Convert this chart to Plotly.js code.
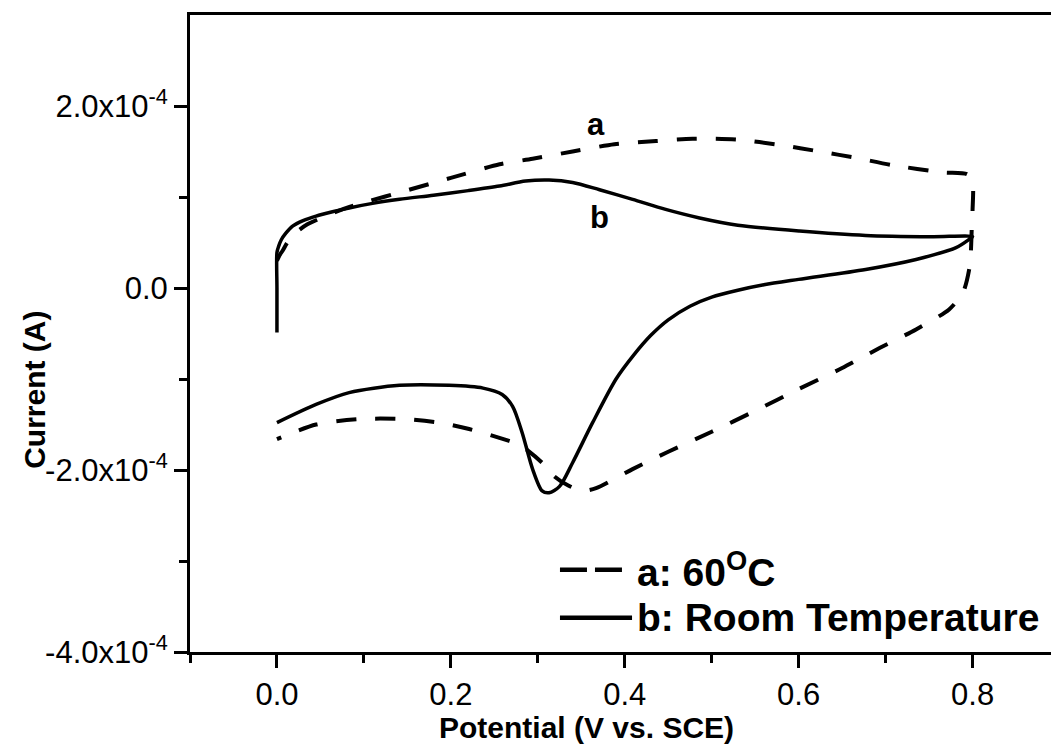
<!DOCTYPE html>
<html>
<head>
<meta charset="utf-8">
<script src="https://cdn.plot.ly/plotly-3.0.1.min.js"></script>
<style>html,body{margin:0;padding:0;background:#fff;}#chart{width:1051px;height:745px;}</style>
</head>
<body>
<div id="chart"></div>
<script>
// Units: potential in V, current in 1e-4 A
const CURRENT_UNIT = 1e-4;

// Curve a: 60 °C (dashed)
const aPotential = [0.000, 0.003, 0.0065, 0.012, 0.022, 0.035, 0.056, 0.080, 0.106, 0.141, 0.200, 0.256, 0.294, 0.340, 0.388, 0.436, 0.478, 0.530, 0.580, 0.624, 0.666, 0.708, 0.766, 0.794, 0.800, 0.800, 0.799, 0.798, 0.796, 0.789, 0.773, 0.735, 0.693,
  0.650, 0.600, 0.550, 0.500, 0.450, 0.409, 0.367, 0.351, 0.335, 0.319, 0.305, 0.279, 0.267, 0.221, 0.187, 0.145, 0.095, 0.045, 0.000];
const aCurrent = [0.30, 0.36, 0.41, 0.50, 0.61, 0.70, 0.79, 0.88, 0.955, 1.05, 1.21, 1.36, 1.42, 1.50, 1.58, 1.615, 1.64, 1.63, 1.57, 1.50, 1.43, 1.35, 1.27, 1.25, 1.16, 0.86, 0.64, 0.39, 0.20, -0.05, -0.235, -0.455, -0.66,
  -0.88, -1.11, -1.35, -1.58, -1.80, -1.99, -2.20, -2.23, -2.17, -2.07, -1.92, -1.72, -1.68, -1.55, -1.48, -1.44, -1.44, -1.50, -1.66];

// Curve b: room temperature (solid)
const bPotential = [0.000, 0.000, 0.000, 0.002, 0.005, 0.010, 0.018, 0.030, 0.045, 0.065, 0.083, 0.110, 0.141, 0.180, 0.220, 0.256, 0.286, 0.313, 0.340, 0.371, 0.409, 0.447, 0.486, 0.530, 0.601, 0.677, 0.754, 0.800,
  0.796, 0.781, 0.735, 0.677, 0.600, 0.560, 0.530, 0.500, 0.475, 0.450, 0.430, 0.410, 0.390, 0.363, 0.340, 0.325, 0.313, 0.305, 0.294, 0.282, 0.271, 0.259, 0.237, 0.198, 0.141, 0.083, 0.045, 0.000];
const bCurrent = [-0.49, 0.00, 0.39, 0.46, 0.53, 0.60, 0.68, 0.74, 0.79, 0.84, 0.88, 0.93, 0.975, 1.02, 1.07, 1.12, 1.175, 1.186, 1.16, 1.08, 0.974, 0.864, 0.77, 0.69, 0.626, 0.578, 0.564, 0.564,
  0.534, 0.443, 0.314, 0.204, 0.095, 0.035, -0.025, -0.10, -0.20, -0.35, -0.52, -0.74, -1.00, -1.48, -1.92, -2.18, -2.25, -2.23, -1.99, -1.59, -1.30, -1.17, -1.10, -1.07, -1.07, -1.15, -1.28, -1.48];

// Ticks
const xMajorTicks = [0.0, 0.2, 0.4, 0.6, 0.8];
const xTickLabels = ["0.0", "0.2", "0.4", "0.6", "0.8"];
const xMinorTicks = [-0.1, 0.1, 0.3, 0.5, 0.7];
const yMajorTicks = [-4e-4, -2e-4, 0, 2e-4];
const yTickLabels = ["-4.0x10<sup>-4</sup>", "-2.0x10<sup>-4</sup>", "0.0", "2.0x10<sup>-4</sup>"];
const yMinorTicks = [-3e-4, -1e-4, 1e-4];

const seriesNames = ["a: 60<sup>O</sup>C", "b: Room Temperature"];
const curveLabels = ["a", "b"];

const FONT = "'Liberation Sans', Arial, Helvetica, sans-serif";
const toA = v => v.map(c => c * CURRENT_UNIT);

const traces = [
  {x: aPotential, y: toA(aCurrent), mode: "lines", name: seriesNames[0],
   line: {color: "#000", width: 4, dash: "20px,19px", shape: "spline", smoothing: 0.7}},
  {x: bPotential, y: toA(bCurrent), mode: "lines", name: seriesNames[1],
   line: {color: "#000", width: 3.5, shape: "spline", smoothing: 0.8}}
];

const layout = {
  width: 1051, height: 745,
  margin: {l: 190, r: 0, t: 15, b: 93},
  paper_bgcolor: "#fff", plot_bgcolor: "#fff",
  showlegend: false,
  font: {family: FONT, color: "#000"},
  xaxis: {
    range: [-0.1, 0.8902], showgrid: false, zeroline: false,
    showline: true, linecolor: "#000", linewidth: 3, mirror: true,
    tickmode: "array", tickvals: xMajorTicks, ticktext: xTickLabels,
    ticks: "outside", ticklen: 13, tickwidth: 3, tickcolor: "#000",
    tickfont: {family: FONT, size: 31, color: "#000"},
    minor: {tickmode: "array", tickvals: xMinorTicks, ticks: "outside", ticklen: 8, tickwidth: 3, tickcolor: "#000", showgrid: false}
  },
  yaxis: {
    range: [-4e-4, 3e-4], showgrid: false, zeroline: false,
    showline: true, linecolor: "#000", linewidth: 3, mirror: false,
    tickmode: "array", tickvals: yMajorTicks, ticktext: yTickLabels,
    ticks: "outside", ticklen: 13, tickwidth: 3, tickcolor: "#000",
    tickfont: {family: FONT, size: 31, color: "#000"},
    minor: {tickmode: "array", tickvals: yMinorTicks, ticks: "outside", ticklen: 8, tickwidth: 3, tickcolor: "#000", showgrid: false}
  },
  shapes: [
    {type: "line", xref: "paper", yref: "paper", x0: 0.4297, x1: 0.5017, y0: 0.129, y1: 0.129,
     line: {color: "#000", width: 4.5, dash: "27px,8px"}},
    {type: "line", xref: "paper", yref: "paper", x0: 0.4297, x1: 0.5134, y0: 0.0538, y1: 0.0538,
     line: {color: "#000", width: 4.5}}
  ],
  annotations: [
    {text: "<b>Potential (V vs. SCE)</b>", xref: "paper", yref: "paper", x: 0.46, y: -0.118,
     xanchor: "center", yanchor: "middle", showarrow: false, font: {family: FONT, size: 30, color: "#000"}},
    {text: "<b>Current (A)</b>", xref: "paper", yref: "paper", x: -0.18, y: 0.4116, textangle: -90,
     xanchor: "center", yanchor: "middle", showarrow: false, font: {family: FONT, size: 30, color: "#000"}},
    {text: "<b>" + seriesNames[0] + "</b>", xref: "paper", yref: "paper", x: 0.5168, y: 0.129,
     xanchor: "left", yanchor: "middle", showarrow: false, font: {family: FONT, size: 39, color: "#000"}},
    {text: "<b>" + seriesNames[1] + "</b>", xref: "paper", yref: "paper", x: 0.5168, y: 0.0538,
     xanchor: "left", yanchor: "middle", showarrow: false, font: {family: FONT, size: 39, color: "#000"}},
    {text: "<b>" + curveLabels[0] + "</b>", x: 0.367, y: 1.80e-4, xanchor: "center", yanchor: "middle",
     showarrow: false, font: {family: FONT, size: 31, color: "#000"}},
    {text: "<b>" + curveLabels[1] + "</b>", x: 0.371, y: 0.78e-4, xanchor: "center", yanchor: "middle",
     showarrow: false, font: {family: FONT, size: 31, color: "#000"}}
  ]
};

Plotly.newPlot("chart", traces, layout, {displayModeBar: false, staticPlot: true});
</script>
</body>
</html>
